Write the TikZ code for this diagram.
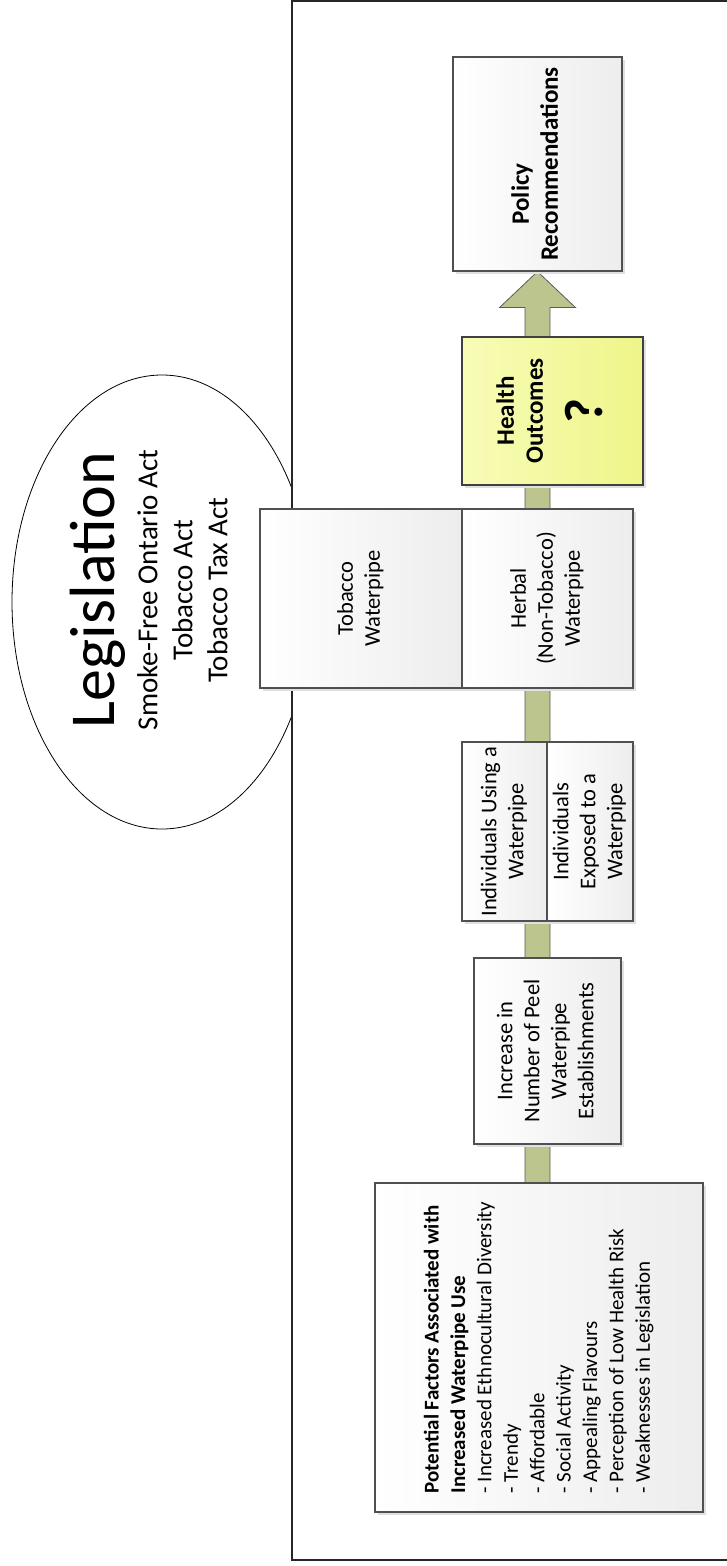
\documentclass[tikz,border=0pt]{standalone}
\usepackage{fontspec}
\setmainfont{Carlito}
\usetikzlibrary{calc,shadows}

\definecolor{boxline}{HTML}{505050}
\definecolor{boxgray}{HTML}{EDEDED}
\definecolor{flowgreen}{HTML}{BBC58D}
\definecolor{flowline}{HTML}{5A5A5A}
\definecolor{healthlight}{HTML}{F8FCB8}
\definecolor{healthdark}{HTML}{EEF588}

\newcommand\boxfont{\fontsize{22.5}{27}\selectfont}
\newcommand\boldfont{\fontsize{25}{29}\selectfont\bfseries}
\newcommand\listfont{\fontsize{21}{26.4}\selectfont}
\newcommand\uptext[1]{\rotatebox{90}{\begin{tabular}{@{}c@{}}#1\end{tabular}}}

\pgfdeclarelayer{under}
\pgfsetlayers{under,main}

\begin{document}
\begin{tikzpicture}[x=1pt, y=-1pt,
	box/.style={draw=boxline, line width=1.1pt, left color=white, right color=boxgray,
		inner sep=0pt, font=\boxfont,
		drop shadow={shadow xshift=3pt, shadow yshift=-3pt, fill=black!12, opacity=1}},
	outcome/.style={box, draw=black!75, line width=2pt, left color=healthlight,
		right color=healthdark, font=\boldfont},
	flow/.style={draw=flowline, line width=0.8pt, fill=flowgreen}]
	\useasboundingbox (0,0) rectangle (727,1566);

	% legislation bubble, cut off by the frame
	\begin{scope}
		\clip (0,0) rectangle (292,1566);
		\draw [line width=0.8pt] (162,602) ellipse [x radius=150pt, y radius=227pt];
	\end{scope}
	\node [inner sep=0pt, font=\fontsize{29}{35}\selectfont] (legis) at (154,590)
		{\uptext{{\fontsize{64}{70}\selectfont Legislation}\\[8pt]
		Smoke-Free Ontario Act\\ Tobacco Act\\ Tobacco Tax Act}};
	\draw [line width=1.4pt, draw=black!85] (760,1) -- (292,1) -- (292,1560) -- (760,1560);

	% boxes
	\node [box, minimum width=328pt, minimum height=329pt] (factors) at (539,1347.5)
		{\rotatebox{90}{\listfont\begin{tabular}{@{}l@{}}
		\textbf{Potential Factors Associated with}\\
		\textbf{Increased Waterpipe Use}\\
		- Increased Ethnocultural Diversity\\
		- Trendy\\
		- Affordable\\
		- Social Activity\\
		- Appealing Flavours\\
		- Perception of Low Health Risk\\
		- Weaknesses in Legislation
		\end{tabular}}};
	\node [box, minimum width=147pt, minimum height=186pt] (increase) at (547.5,1051)
		{\uptext{Increase in\\ Number of Peel\\ Waterpipe\\ Establishments}};
	\node [box, minimum width=85pt, minimum height=179pt] (using) at (504.5,831.5)
		{\uptext{Individuals Using a\\ Waterpipe}};
	\node [box, minimum width=86pt, minimum height=179pt] (exposed) at (590,831.5)
		{\uptext{Individuals\\ Exposed to a\\ Waterpipe}};
	\node [box, minimum width=202pt, minimum height=179pt] (tobacco) at (361,598.5)
		{\uptext{Tobacco\\ Waterpipe}};
	\node [box, minimum width=171pt, minimum height=179pt] (herbal) at (547.5,598.5)
		{\uptext{Herbal\\ (Non-Tobacco)\\ Waterpipe}};
	\node [outcome, minimum width=181pt, minimum height=148pt] (health) at (552.5,411)
		{\uptext{Health\\ Outcomes\\[14pt] {\fontsize{54}{58}\selectfont ?}}};
	\node [box, font=\boldfont, minimum width=169pt, minimum height=214pt] (policy) at (537.5,164)
		{\uptext{Policy\hspace*{2.4em}\\ Recommendations}};

	% the flow arrow behind the boxes
	\begin{pgfonlayer}{under}
		\coordinate (tip) at (policy.south);
		\coordinate (base) at (tip |- factors.north);
		\draw [flow] ($(base)+(-12.5,0)$) -- ($(tip)+(-12.5,36)$) -- ($(tip)+(-38,36)$)
			-- (tip) -- ($(tip)+(38,36)$) -- ($(tip)+(12.5,36)$) -- ($(base)+(12.5,0)$) -- cycle;
	\end{pgfonlayer}
\end{tikzpicture}
\end{document}
